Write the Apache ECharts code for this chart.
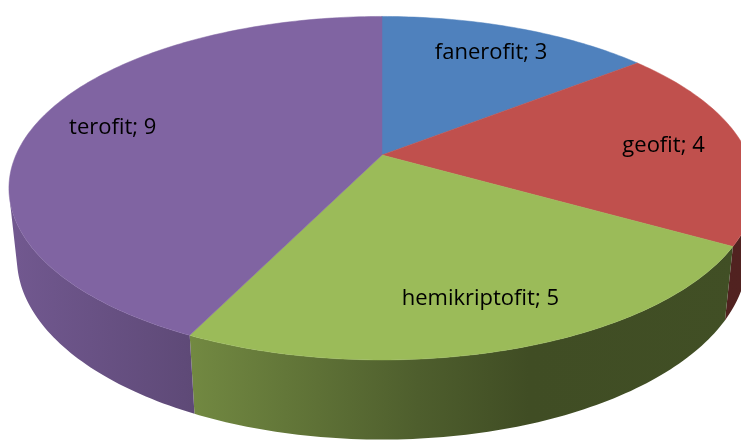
<!DOCTYPE html>
<html>
<head>
  <meta charset="UTF-8">
  <title>pie 3d</title>
  <style>
    html, body { margin: 0; padding: 0; background: #fff; }
    #main { width: 741px; height: 443px; }
  </style>
  <script src="https://cdn.jsdelivr.net/npm/echarts@6/dist/echarts.min.js"></script>
</head>
<body>
<div id="main"></div>
<script>
// data
const categories = ['fanerofit', 'geofit', 'hemikriptofit', 'terofit'];
const values = [3, 4, 5, 9];
const colors = ['#4F81BD', '#C0504D', '#9BBB59', '#8064A2'];

// simple perspective camera for the tilted pie
const cam = {
  cx: 382, cy: 155,
  f: 1690, D: 4.617,
  alpha: 26.85 * Math.PI / 180,
  h: 0.215,          // thickness (radius = 1)
  labelR: 0.78
};
const ca = Math.cos(cam.alpha), sa = Math.sin(cam.alpha);

// theta in degrees, clockwise from 12 o'clock
function project(theta, r, z) {
  const t = theta * Math.PI / 180;
  const u = r * Math.sin(t), v = -r * Math.cos(t);
  const depth = cam.D - v * ca - z * sa;
  return [cam.cx + cam.f * u / depth, cam.cy + cam.f * (v * sa - z * ca) / depth];
}

const total = values.reduce((a, b) => a + b, 0);
const starts = [];
values.reduce((acc, v, i) => { starts[i] = acc; return acc + v; }, 0);

// wall visible where it faces the camera
const visLim = Math.acos(-1 / (cam.D * ca)) * 180 / Math.PI;
const leftX = project(270, 1, 0)[0], rightX = project(90, 1, 0)[0];

function shade(hex, k) {
  const n = parseInt(hex.slice(1), 16);
  const r = Math.round(((n >> 16) & 255) * k);
  const g = Math.round(((n >> 8) & 255) * k);
  const b = Math.round((n & 255) * k);
  return 'rgb(' + r + ',' + g + ',' + b + ')';
}

function renderItem(params, api) {
  const i = params.dataIndex;
  const a0 = starts[i] / total * 360;
  const a1 = a0 + api.value(0) / total * 360;
  const children = [];

  // top face
  const top = [project(0, 0, 0)];
  for (let t = a0; t < a1; t += 1) top.push(project(t, 1, 0));
  top.push(project(a1, 1, 0));
  children.push({
    type: 'polygon', z2: 2,
    shape: { points: top },
    style: { fill: colors[i], stroke: colors[i], lineWidth: 0.5 }
  });

  // outer wall (front part only)
  const w0 = Math.max(a0, visLim), w1 = Math.min(a1, 360 - visLim);
  if (w1 > w0) {
    const up = [], down = [];
    for (let t = w0; t < w1; t += 1) {
      up.push(project(t, 1, 0));
      down.push(project(t, 1, -cam.h));
    }
    up.push(project(w1, 1, 0));
    down.push(project(w1, 1, -cam.h));
    const pts = up.concat(down.reverse());
    const c = colors[i];
    const grad = new echarts.graphic.LinearGradient(leftX, 0, rightX, 0, [
      { offset: 0, color: shade(c, 0.88) },
      { offset: 0.23, color: shade(c, 0.74) },
      { offset: 0.55, color: shade(c, 0.5) },
      { offset: 0.7, color: shade(c, 0.41) },
      { offset: 1, color: shade(c, 0.42) }
    ], true);
    children.push({
      type: 'polygon', z2: 1,
      shape: { points: pts },
      style: { fill: grad }
    });
  }

  // label
  const mid = (a0 + a1) / 2;
  const lp = project(mid, cam.labelR, 0);
  children.push({
    type: 'text', z2: 3,
    x: lp[0], y: lp[1],
    style: {
      text: categories[i] + '; ' + api.value(0),
      fill: '#000',
      font: '22px "Open Sans"',
      align: 'center',
      verticalAlign: 'middle'
    }
  });

  return { type: 'group', children: children };
}

var myChart = echarts.init(document.getElementById('main'));
myChart.setOption({
  backgroundColor: '#fff',
  animation: false,
  series: [{
    type: 'custom',
    coordinateSystem: 'none',
    renderItem: renderItem,
    data: values.map(v => [v])
  }]
});
</script>
</body>
</html>
